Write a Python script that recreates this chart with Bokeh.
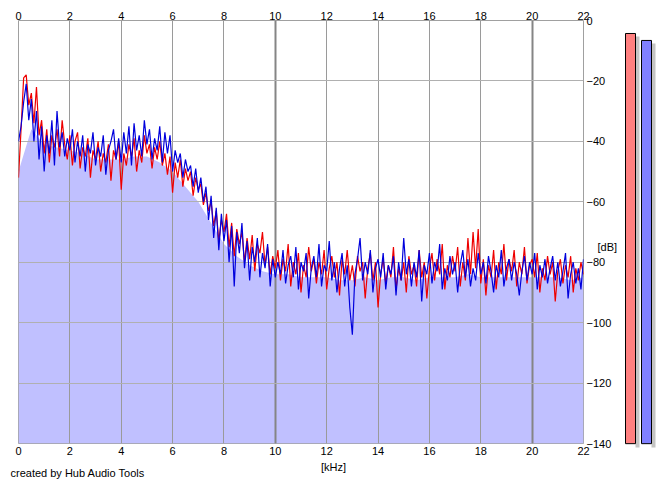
from bokeh.plotting import figure
from bokeh.models import Range1d, LinearAxis, FixedTicker, Grid
from bokeh.layouts import row, column
from bokeh.core.properties import value
from bokeh.embed import file_html
from bokeh.resources import INLINE

# ---------------- data ----------------
freq_step = 0.1  # kHz
left_db = [
    -52, -36, -19, -18, -28, -24, -34, -22, -38, -33,
    -44, -36, -47, -38, -42, -36, -45, -33, -41, -46,
    -38, -48, -40, -37, -49, -42, -45, -39, -52, -43,
    -46, -40, -50, -44, -47, -41, -53, -43, -46, -40,
    -56, -44, -48, -41, -45, -39, -50, -43, -47, -38,
    -44, -41, -49, -42, -46, -40, -48, -44, -51, -45,
    -57, -47, -52, -46, -55, -49, -53, -50, -58, -52,
    -56, -54, -61, -57, -63, -60, -68, -63, -73, -66,
    -70, -64, -75, -67, -78, -69, -74, -70, -80, -72,
    -79, -71, -83, -74, -77, -70, -81, -75, -84, -78,
    -82, -76, -86, -79, -83, -74, -88, -80, -84, -77,
    -90, -81, -85, -75, -83, -79, -87, -80, -84, -76,
    -89, -82, -78, -85, -80, -91, -79, -84, -76, -86,
    -81, -88, -78, -83, -80, -92, -82, -77, -86, -80,
    -95, -84, -79, -87, -81, -85, -75, -89, -82, -86,
    -80, -90, -78, -84, -81, -88, -76, -85, -80, -92,
    -82, -77, -86, -79, -84, -74, -89, -81, -85, -78,
    -83, -75, -88, -80, -86, -72, -84, -70, -82, -69,
    -87, -79, -91, -81, -85, -76, -89, -80, -84, -74,
    -86, -79, -83, -76, -88, -80, -84, -75, -87, -81,
    -79, -85, -77, -90, -82, -86, -78, -84, -80, -93,
    -83, -79, -87, -81, -85, -78, -90, -82, -86, -80,
    -84,
]
right_db = [
    -40, -35, -27, -21, -33, -26, -40, -30, -46, -35,
    -50, -38, -44, -33, -48, -30, -42, -37, -45, -39,
    -43, -36, -47, -40, -45, -38, -50, -41, -44, -37,
    -48, -42, -45, -38, -51, -43, -40, -36, -46, -39,
    -47, -37, -44, -35, -48, -34, -43, -38, -45, -33,
    -41, -36, -46, -39, -43, -35, -47, -37, -44, -38,
    -50, -43, -47, -44, -52, -46, -50, -48, -55, -49,
    -57, -52, -60, -55, -66, -58, -72, -62, -76, -64,
    -73, -66, -80, -68, -88, -70, -77, -67, -82, -73,
    -86, -75, -80, -72, -85, -77, -82, -74, -88, -79,
    -85, -80, -84, -76, -87, -81, -78, -85, -75, -89,
    -80, -83, -77, -92, -82, -78, -85, -74, -88, -81,
    -83, -73, -86, -80, -90, -82, -77, -88, -81, -95,
    -104, -84, -79, -72, -86, -80, -84, -76, -90, -82,
    -79, -85, -77, -89, -81, -84, -78, -91, -80, -86,
    -72, -84, -79, -88, -80, -85, -76, -93, -81, -84,
    -77, -87, -80, -83, -74, -89, -82, -86, -78, -84,
    -80, -90, -81, -76, -85, -79, -88, -82, -86, -77,
    -84, -80, -87, -78, -83, -90, -81, -85, -76, -88,
    -82, -79, -86, -80, -84, -91, -83, -78, -86, -80,
    -84, -77, -89, -81, -85, -79, -87, -82, -78, -86,
    -80, -88, -83, -77, -92, -84, -80, -87, -82, -89,
    -79,
]
avg_freq = [0.0, 0.5, 1.0, 1.5, 2.0, 2.5, 3.0, 3.5, 4.0, 4.5, 5.0, 5.5,
            6.0, 6.5, 7.0, 7.5, 8.0, 8.5, 9.0, 9.5, 10.0, 10.5, 11.0, 11.5,
            12.0, 12.5, 13.0, 13.5, 14.0, 14.5, 15.0, 15.5, 16.0, 16.5, 17.0,
            17.5, 18.0, 18.5, 19.0, 19.5, 20.0, 20.5, 21.0, 21.5, 22.0]
avg_db = [-50, -36, -41, -42, -43, -44, -46, -46, -46, -45, -45, -47,
          -50, -55, -60, -67, -74, -78, -81, -83, -84, -84, -85, -85,
          -85, -86, -86, -85, -86, -85, -85, -86, -85, -85, -85,
          -84, -85, -85, -85, -85, -85, -85, -85, -86, -85]
meter_levels = [-4.3, -6.6]  # dB peak, left (red) / right (blue)
meter_colors = ["#ff8080", "#8080ff"]
x_ticks = [0, 2, 4, 6, 8, 10, 12, 14, 16, 18, 20, 22]
y_ticks = [0, -20, -40, -60, -80, -100, -120, -140]
x_title = "[kHz]"
y_title = "[dB]"
credit = "created by Hub Audio Tools"

freqs = [round(i * freq_step, 1) for i in range(len(left_db))]

FONT = "Liberation Sans"
H = 459

p = figure(width=620, height=H, output_backend="svg", toolbar_location=None,
           x_range=Range1d(0, 22), y_range=Range1d(-140, 0),
           x_axis_location=None, y_axis_location=None,
           min_border_left=18, min_border_top=20, min_border_right=37,
           min_border_bottom=16)
p.background_fill_color = "white"
p.border_fill_color = "white"
p.outline_line_color = "#a0a0a0"
p.outline_line_width = 1

# average spectrum fill
p.varea(x=avg_freq, y1=-140, y2=avg_db, fill_color="#c0c0ff", level="image")

# grids
p.xgrid.visible = False
p.ygrid.visible = False
p.add_layout(Grid(dimension=0, ticker=FixedTicker(ticks=x_ticks),
                  grid_line_color="#9a9a9a", grid_line_width=1))
p.add_layout(Grid(dimension=0, ticker=FixedTicker(ticks=[0, 10, 20]),
                  grid_line_color="#858585", grid_line_width=2))
p.add_layout(Grid(dimension=1, ticker=FixedTicker(ticks=y_ticks),
                  grid_line_color="#b0b0b0", grid_line_width=1))

p.line(freqs, left_db, line_color="#ee0000", line_width=1.2)
p.line(freqs, right_db, line_color="#0000dd", line_width=1.2)


def make_axis(ticks, standoff):
    ax = LinearAxis(ticker=FixedTicker(ticks=ticks))
    ax.major_tick_out = 0
    ax.major_tick_in = 0
    ax.minor_tick_out = 0
    ax.minor_tick_in = 0
    ax.axis_line_color = None
    ax.major_label_standoff = standoff
    ax.major_label_text_font = FONT
    ax.major_label_text_font_size = "11px"
    ax.major_label_text_color = "black"
    return ax


p.add_layout(make_axis(x_ticks, 1), "above")
p.add_layout(make_axis(x_ticks, 3), "below")
p.add_layout(make_axis(y_ticks, 3), "right")
db_axis = make_axis([-75], -17)
db_axis.major_label_overrides = {-75: y_title}
p.add_layout(db_axis, "right")

# level meters
m = figure(frame_width=40, frame_height=428, output_backend="svg",
           toolbar_location=None,
           x_range=Range1d(0, 40), y_range=Range1d(-141.6, 0),
           x_axis_location=None, y_axis_location=None,
           min_border_left=0, min_border_right=0, min_border_top=20,
           min_border_bottom=H - 20 - 428)
m.outline_line_color = None
m.xgrid.visible = False
m.ygrid.visible = False
m.background_fill_color = "white"
m.border_fill_color = "white"
lefts = [5 + 16 * i for i in range(len(meter_levels))]
m.quad(left=[l + 10 for l in lefts], right=[l + 14 for l in lefts],
       top=[v - 1 for v in meter_levels], bottom=-141.3,
       fill_color="#c4c4c4", line_color=None)
m.quad(left=lefts, right=[l + 10 for l in lefts], top=meter_levels,
       bottom=-140, fill_color=meter_colors, line_color="black",
       line_width=1)

# footer with axis title and credit
f = figure(width=660, height=24, output_backend="svg", toolbar_location=None,
           x_range=Range1d(0, 660), y_range=Range1d(24, 0),
           x_axis_location=None, y_axis_location=None,
           min_border_left=0, min_border_right=0, min_border_top=0,
           min_border_bottom=0)
f.outline_line_color = None
f.xgrid.visible = False
f.ygrid.visible = False
f.background_fill_color = "white"
f.border_fill_color = "white"
f.text(x=[333], y=[7], text=[x_title], text_align="center",
       text_baseline="middle", text_font=value(FONT), text_font_size="11px",
       text_color="black")
f.text(x=[10], y=[13], text=[credit], text_align="left",
       text_baseline="middle", text_font=value(FONT), text_font_size="11px",
       text_color="black")

layout = column(row(p, m), f)
open("out.html", "w").write(file_html(layout, INLINE))
